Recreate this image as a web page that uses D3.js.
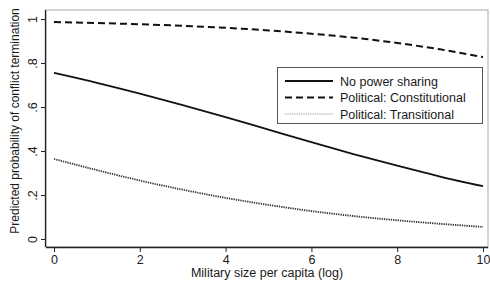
<!DOCTYPE html>
<html><head><meta charset="utf-8">
<script src="https://cdn.jsdelivr.net/npm/d3@7"></script>
<style>body{margin:0;background:#fff}svg{display:block}text{font-family:"Liberation Sans",Arial,sans-serif;fill:#1a1a1a}</style>
</head><body><svg id="c" width="490" height="287"></svg>
<script>
const xValues = [0,1,2,3,4,5,6,7,8,9,10];
const noPowerSharing = [0.755,0.710,0.661,0.609,0.554,0.497,0.440,0.385,0.333,0.284,0.240];
const constitutional = [0.986,0.982,0.976,0.969,0.960,0.948,0.933,0.915,0.891,0.862,0.827];
const transitional = [0.364,0.313,0.266,0.224,0.187,0.155,0.127,0.104,0.085,0.069,0.055];
const xTicks = [0,2,4,6,8,10];
const yTicks = [0,0.2,0.4,0.6,0.8,1];
const yTickLabels = ["0",".2",".4",".6",".8","1"];
const seriesNames = ["No power sharing","Political: Constitutional","Political: Transitional"];

const svg = d3.select("#c");
const x = d3.scaleLinear().domain([0,10]).range([54,483]);
const y = d3.scaleLinear().domain([0,1]).range([239,19]);
const L=46, T=10, R=488, B=247;

// frame
svg.append("rect").attr("x",L).attr("y",T).attr("width",R-L).attr("height",B-T)
  .attr("fill","none").attr("stroke","#aaa").attr("stroke-width",1);

// axes
const xa = svg.append("g").attr("transform",`translate(0,${B})`)
  .call(d3.axisBottom(x).tickValues(xTicks).tickSize(5).tickPadding(3).tickSizeOuter(0));
xa.select(".domain").attr("d",`M${L},0.5H${R}`).attr("stroke","#222").attr("stroke-width",1.3);
xa.selectAll(".tick line").attr("stroke","#222");
xa.selectAll("text").attr("font-size",12.5).style("font-family","Liberation Sans, Arial, sans-serif").style("fill","#1a1a1a");

const ya = svg.append("g").attr("transform",`translate(${L},0)`)
  .call(d3.axisLeft(y).tickValues(yTicks).tickFormat((d,i)=>yTickLabels[i]).tickSize(5).tickSizeOuter(0));
ya.select(".domain").attr("d",`M-0.5,${T}V${B}`).attr("stroke","#222").attr("stroke-width",1.3);
ya.selectAll(".tick line").attr("stroke","#222");
ya.selectAll(".tick text").attr("font-size",12.5).style("font-family","Liberation Sans, Arial, sans-serif").style("fill","#1a1a1a")
  .attr("x",0).attr("dy",0).attr("text-anchor","middle")
  .attr("transform","translate(-9,0) rotate(-90)");

// titles
svg.append("text").attr("x",(L+R)/2).attr("y",277).attr("text-anchor","middle")
  .attr("font-size",12.5).text("Military size per capita (log)");
svg.append("text").attr("transform",`translate(19,121) rotate(-90)`).attr("text-anchor","middle")
  .attr("font-size",12).text("Predicted probability of conflict termination");

// lines
const styles = [
  {data:noPowerSharing, dash:null, w:1.8, c:"#111"},
  {data:constitutional, dash:"7,4", w:2, c:"#111"},
  {data:transitional, dash:"1.3,1", w:1.8, c:"#333"}
];
const line = d3.line().x((d,i)=>x(xValues[i])).y(d=>y(d)).curve(d3.curveMonotoneX);
styles.forEach(s=>{
  svg.append("path").attr("d",line(s.data)).attr("fill","none").attr("stroke",s.c)
    .attr("stroke-width",s.w).attr("stroke-dasharray",s.dash);
});

// legend
const lg = svg.append("g");
lg.append("rect").attr("x",277.5).attr("y",67.5).attr("width",205).attr("height",56)
  .attr("fill","#fff").attr("stroke","#555").attr("stroke-width",1);
seriesNames.forEach((n,i)=>{
  const yy = 81 + i*16.5;
  const s = styles[i];
  lg.append("line").attr("x1",285).attr("x2",333).attr("y1",yy).attr("y2",yy)
    .attr("stroke",i==2?"#999":s.c).attr("stroke-width",i==2?1.2:s.w).attr("stroke-dasharray",s.dash);
  lg.append("text").attr("x",340).attr("y",yy+4.5).attr("font-size",12.5).text(n);
});
</script></body></html>
